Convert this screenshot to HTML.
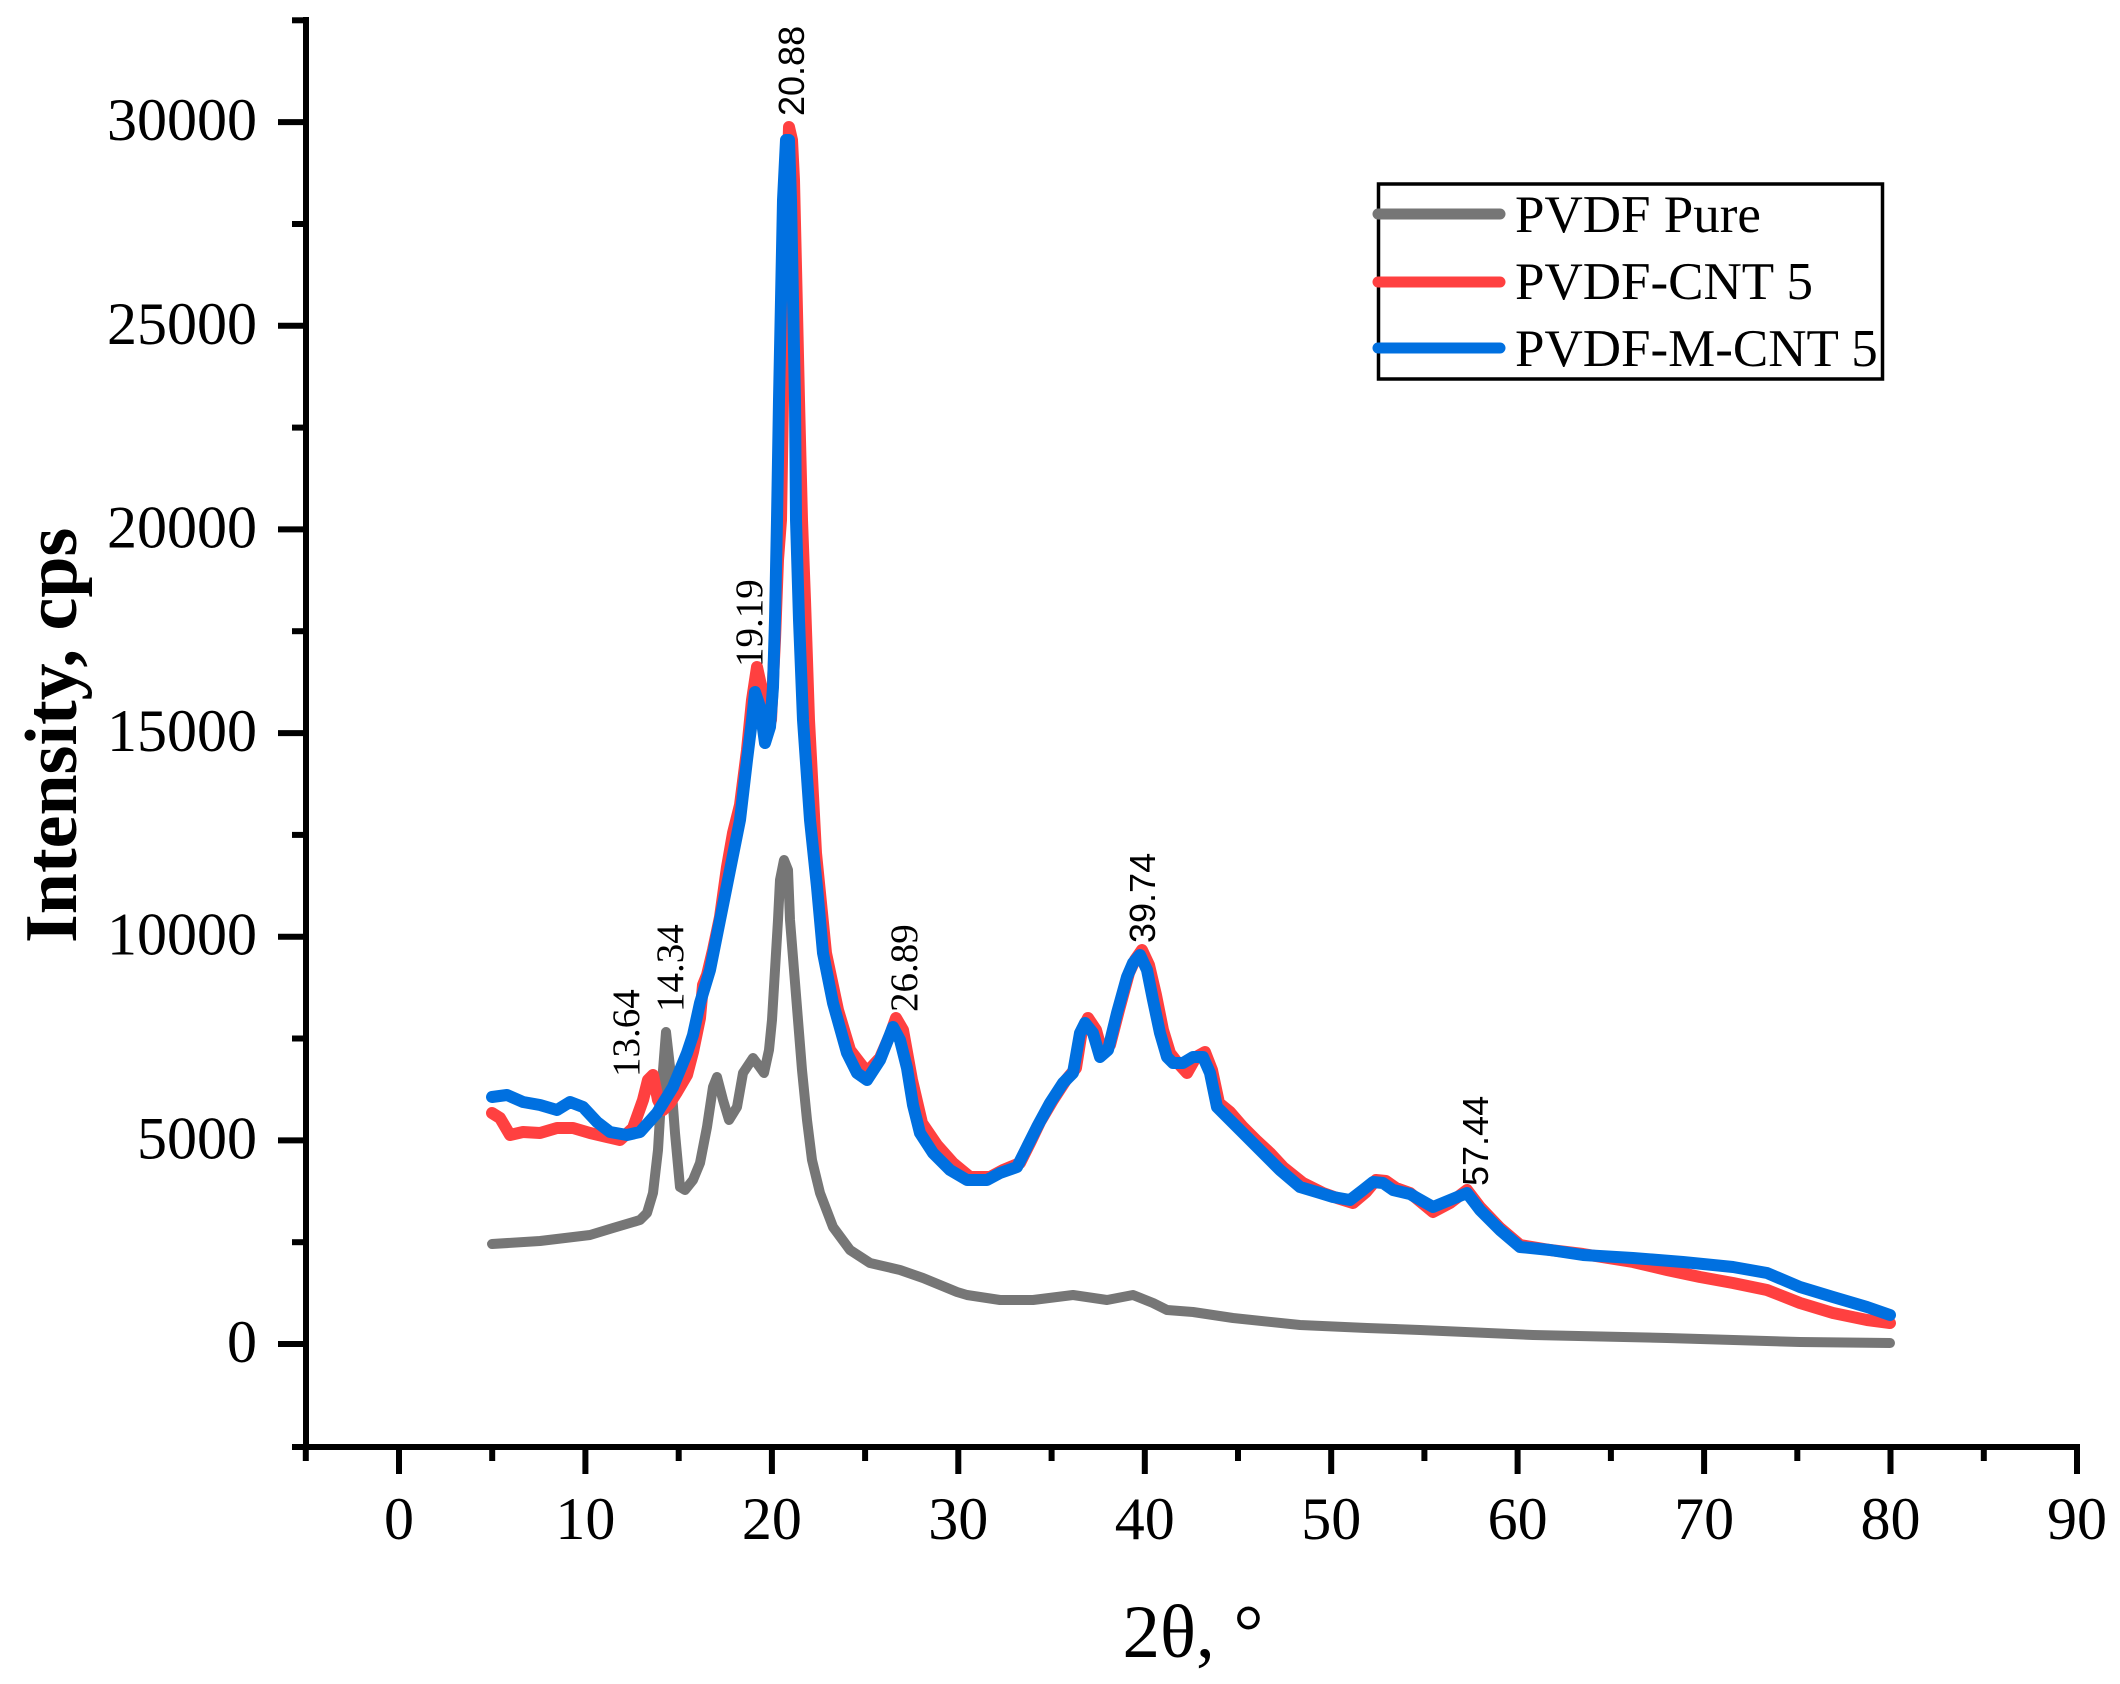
<!DOCTYPE html>
<html>
<head>
<meta charset="utf-8">
<style>
html,body{margin:0;padding:0;background:#fff;}
svg{display:block;}
text{font-family:"Liberation Serif","Times New Roman",serif;fill:#000;}
.sans{font-family:"Liberation Sans",Arial,sans-serif;}
</style>
</head>
<body>
<svg width="2120" height="1684" viewBox="0 0 2120 1684" xmlns="http://www.w3.org/2000/svg">
<rect x="0" y="0" width="2120" height="1684" fill="#fff"/>

<!-- data series -->
<g fill="none" stroke-linejoin="round" stroke-linecap="round">
<polyline stroke="#767676" stroke-width="10" points="492,1244 540,1241 590,1235 613,1228 640,1220 647,1213 653,1193 658,1150 662,1083 666,1032 670,1067 675,1133 680,1187 685,1190 693,1180 700,1163 707,1127 713,1087 717,1077 723,1100 729,1120 737,1107 743,1073 753,1058 759,1066 764,1073 769,1050 772,1020 775,970 778,920 780,880 784,860 788,870 790,920 794,970 798,1020 802,1070 807,1120 812,1160 820,1193 833,1227 850,1250 870,1263 900,1270 923,1278 957,1292 967,1295 1000,1300 1033,1300 1073,1295 1107,1300 1133,1295 1153,1303 1167,1310 1193,1312 1233,1318 1300,1325 1367,1328 1420,1330 1533,1335 1667,1338 1800,1342 1890,1343"/>

<polyline stroke="#ff4040" stroke-width="12" points="492,1113 500,1118 510,1135 523,1132 540,1133 557,1128 573,1128 590,1133 607,1137 620,1140 633,1128 643,1100 648,1080 653,1075 658,1100 663,1110 670,1103 677,1092 687,1075 693,1052 700,1018 703,985 707,975 713,950 720,917 727,867 733,833 740,805 747,750 752,700 757,667 762,690 766,735 771,720 775,640 778,560 781,520 783,400 785,300 787,200 789,127 792,140 794,180 796,267 799,400 802,520 805,600 809,720 816,853 826,953 838,1010 850,1050 860,1063 867,1072 880,1058 890,1035 896,1018 903,1030 912,1080 922,1123 937,1145 953,1163 970,1177 990,1177 1003,1170 1020,1163 1030,1143 1040,1122 1053,1100 1066,1080 1076,1068 1082,1030 1088,1018 1096,1030 1102,1052 1110,1045 1119,1010 1129,973 1135,960 1142,950 1149,965 1156,995 1163,1030 1170,1053 1177,1062 1187,1073 1196,1057 1205,1052 1212,1070 1219,1103 1230,1112 1243,1127 1256,1140 1270,1153 1283,1167 1303,1183 1323,1193 1337,1198 1353,1203 1366,1192 1376,1180 1386,1181 1396,1188 1410,1193 1433,1212 1450,1203 1467,1190 1480,1207 1500,1228 1520,1245 1550,1250 1583,1254 1633,1262 1667,1270 1700,1277 1733,1283 1767,1290 1800,1303 1833,1313 1867,1320 1890,1323"/>

<polyline stroke="#0070e0" stroke-width="12" points="492,1097 507,1095 523,1102 540,1105 557,1110 570,1102 583,1107 597,1122 610,1132 627,1135 640,1132 657,1113 673,1087 687,1053 693,1035 700,1003 710,970 720,920 730,870 740,820 747,760 752,720 755,692 760,707 765,743 770,727 773,687 775,620 777,520 779,400 781,300 783,200 786,140 789,140 791,200 793,300 795,400 796,520 799,620 803,720 810,820 817,887 823,953 833,1003 847,1053 857,1073 867,1080 880,1060 893,1027 900,1040 907,1068 913,1105 920,1133 933,1153 950,1170 967,1180 987,1180 1000,1173 1017,1167 1027,1147 1037,1127 1050,1103 1063,1083 1073,1073 1080,1033 1085,1023 1093,1033 1100,1057 1108,1050 1117,1013 1127,977 1133,963 1140,955 1147,970 1153,1000 1160,1033 1167,1057 1173,1063 1183,1063 1193,1057 1203,1057 1210,1073 1217,1107 1227,1117 1240,1130 1253,1143 1267,1157 1280,1170 1300,1187 1320,1193 1333,1197 1350,1200 1363,1190 1373,1182 1383,1183 1393,1190 1410,1194 1433,1207 1450,1200 1467,1193 1480,1210 1500,1230 1520,1247 1550,1250 1583,1255 1633,1258 1683,1262 1733,1267 1767,1273 1800,1287 1833,1297 1867,1307 1890,1315"/>
</g>

<!-- axes -->
<g stroke="#000" stroke-width="6" fill="none">
<line x1="306" y1="17" x2="306" y2="1450"/>
<line x1="292" y1="1447" x2="2080" y2="1447"/>
<line x1="278" y1="1344" x2="306" y2="1344"/>
<line x1="278" y1="1140.4" x2="306" y2="1140.4"/>
<line x1="278" y1="936.7" x2="306" y2="936.7"/>
<line x1="278" y1="733.1" x2="306" y2="733.1"/>
<line x1="278" y1="529.4" x2="306" y2="529.4"/>
<line x1="278" y1="325.8" x2="306" y2="325.8"/>
<line x1="278" y1="122.1" x2="306" y2="122.1"/>
<line x1="292" y1="1242.2" x2="306" y2="1242.2"/>
<line x1="292" y1="1038.5" x2="306" y2="1038.5"/>
<line x1="292" y1="834.9" x2="306" y2="834.9"/>
<line x1="292" y1="631.2" x2="306" y2="631.2"/>
<line x1="292" y1="427.6" x2="306" y2="427.6"/>
<line x1="292" y1="224.0" x2="306" y2="224.0"/>
<line x1="292" y1="20.3" x2="306" y2="20.3"/>
<line x1="399" y1="1447" x2="399" y2="1474"/>
<line x1="585.4" y1="1447" x2="585.4" y2="1474"/>
<line x1="771.9" y1="1447" x2="771.9" y2="1474"/>
<line x1="958.3" y1="1447" x2="958.3" y2="1474"/>
<line x1="1144.8" y1="1447" x2="1144.8" y2="1474"/>
<line x1="1331.2" y1="1447" x2="1331.2" y2="1474"/>
<line x1="1517.6" y1="1447" x2="1517.6" y2="1474"/>
<line x1="1704.1" y1="1447" x2="1704.1" y2="1474"/>
<line x1="1890.5" y1="1447" x2="1890.5" y2="1474"/>
<line x1="2077" y1="1447" x2="2077" y2="1474"/>
<line x1="305.8" y1="1447" x2="305.8" y2="1461"/>
<line x1="492.2" y1="1447" x2="492.2" y2="1461"/>
<line x1="678.7" y1="1447" x2="678.7" y2="1461"/>
<line x1="865.1" y1="1447" x2="865.1" y2="1461"/>
<line x1="1051.6" y1="1447" x2="1051.6" y2="1461"/>
<line x1="1238" y1="1447" x2="1238" y2="1461"/>
<line x1="1424.4" y1="1447" x2="1424.4" y2="1461"/>
<line x1="1610.9" y1="1447" x2="1610.9" y2="1461"/>
<line x1="1797.3" y1="1447" x2="1797.3" y2="1461"/>
<line x1="1983.8" y1="1447" x2="1983.8" y2="1461"/>
</g>

<!-- y tick labels -->
<g font-size="60" text-anchor="end">
<text x="257" y="1362">0</text>
<text x="257" y="1158.4">5000</text>
<text x="257" y="954.7">10000</text>
<text x="257" y="751.1">15000</text>
<text x="257" y="547.4">20000</text>
<text x="257" y="343.8">25000</text>
<text x="257" y="140.1">30000</text>
</g>

<!-- x tick labels -->
<g font-size="60" text-anchor="middle">
<text x="399" y="1539">0</text>
<text x="585.4" y="1539">10</text>
<text x="771.9" y="1539">20</text>
<text x="958.3" y="1539">30</text>
<text x="1144.8" y="1539">40</text>
<text x="1331.2" y="1539">50</text>
<text x="1517.6" y="1539">60</text>
<text x="1704.1" y="1539">70</text>
<text x="1890.5" y="1539">80</text>
<text x="2077" y="1539">90</text>
</g>

<!-- axis titles -->
<text x="1193" y="1657" font-size="75" text-anchor="middle">2θ, °</text>
<text transform="translate(76,943) rotate(-90)" font-size="74" font-weight="bold">Intensity, cps</text>

<!-- peak annotations -->
<text transform="translate(639,1077) rotate(-90)" font-size="39">13.64</text>
<text transform="translate(683,1012) rotate(-90)" font-size="39">14.34</text>
<text transform="translate(762,667) rotate(-90)" font-size="39">19.19</text>
<text class="sans" transform="translate(804,116) rotate(-90)" font-size="36">20.88</text>
<text transform="translate(917,1012) rotate(-90)" font-size="39">26.89</text>
<text class="sans" transform="translate(1155,943) rotate(-90)" font-size="36">39.74</text>
<text class="sans" transform="translate(1488,1186) rotate(-90)" font-size="36">57.44</text>

<!-- legend -->
<rect x="1378.5" y="184" width="504" height="195" fill="none" stroke="#000" stroke-width="3.5"/>
<g stroke-width="11" stroke-linecap="round">
<line x1="1378" y1="214" x2="1500" y2="214" stroke="#767676"/>
<line x1="1378" y1="282" x2="1500" y2="282" stroke="#ff4040"/>
<line x1="1378" y1="348" x2="1500" y2="348" stroke="#0070e0"/>
</g>
<g font-size="53">
<text x="1515" y="232">PVDF Pure</text>
<text x="1515" y="299">PVDF-CNT 5</text>
<text x="1515" y="366">PVDF-M-CNT 5</text>
</g>
</svg>
</body>
</html>
